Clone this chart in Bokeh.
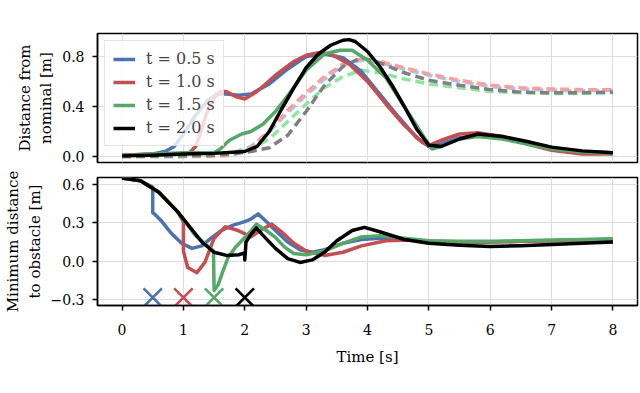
from bokeh.plotting import figure
from bokeh.layouts import column
from bokeh.models import FixedTicker, CustomJSTickFormatter, Range1d
from bokeh.embed import file_html
from bokeh.resources import INLINE

# ---------------- data ----------------
labels = ["t = 0.5 s", "t = 1.0 s", "t = 1.5 s", "t = 2.0 s"]
solid_colors = ["#4C72B0", "#C44E52", "#55A868", "#000000"]
dash_colors = ["#A1C9F4", "#FF9F9B", "#8DE5A1", "#808080"]

# Top: distance of EE from nominal (solid)
ee_t_05 = [0, 0.5, 0.7, 0.85, 1.0, 1.2, 1.4, 1.55, 1.7, 1.9, 2.1, 2.4, 2.7, 3.0, 3.3, 3.6, 3.9, 4.2, 4.5, 4.8, 5.0, 5.2, 5.5, 5.8, 6.2, 6.6, 7.0, 7.5, 8.0]
ee_v_05 = [0.01, 0.02, 0.04, 0.08, 0.18, 0.33, 0.45, 0.50, 0.50, 0.49, 0.50, 0.58, 0.70, 0.80, 0.82, 0.79, 0.68, 0.50, 0.32, 0.15, 0.08, 0.10, 0.15, 0.17, 0.15, 0.11, 0.07, 0.04, 0.03]
ee_t_10 = [0, 0.5, 1.0, 1.1, 1.2, 1.3, 1.4, 1.5, 1.6, 1.7, 1.85, 2.0, 2.2, 2.5, 2.8, 3.0, 3.2, 3.4, 3.7, 4.0, 4.3, 4.6, 4.9, 5.0, 5.2, 5.5, 5.8, 6.2, 6.6, 7.0, 7.5, 8.0]
ee_v_10 = [0.01, 0.02, 0.02, 0.03, 0.08, 0.22, 0.38, 0.47, 0.52, 0.52, 0.48, 0.46, 0.52, 0.65, 0.76, 0.81, 0.83, 0.82, 0.74, 0.60, 0.42, 0.25, 0.11, 0.09, 0.13, 0.18, 0.19, 0.16, 0.10, 0.05, 0.02, 0.02]
ee_t_15 = [0, 0.5, 1.0, 1.5, 1.6, 1.75, 1.95, 2.1, 2.3, 2.5, 2.75, 3.0, 3.3, 3.55, 3.75, 4.0, 4.3, 4.6, 4.9, 5.05, 5.2, 5.5, 5.8, 6.2, 6.6, 7.0, 7.5, 8.0]
ee_v_15 = [0.005, 0.02, 0.03, 0.03, 0.06, 0.13, 0.18, 0.20, 0.26, 0.36, 0.52, 0.69, 0.82, 0.85, 0.85, 0.77, 0.63, 0.40, 0.17, 0.06, 0.08, 0.14, 0.16, 0.14, 0.10, 0.06, 0.035, 0.025]
ee_t_20 = [0, 0.5, 1.0, 1.5, 2.0, 2.2, 2.4, 2.6, 2.8, 3.0, 3.2, 3.4, 3.6, 3.7, 3.8, 4.0, 4.2, 4.4, 4.6, 4.8, 5.0, 5.2, 5.5, 5.8, 6.2, 6.6, 7.0, 7.5, 8.0]
ee_v_20 = [0.005, 0.01, 0.02, 0.025, 0.04, 0.08, 0.20, 0.38, 0.55, 0.71, 0.82, 0.89, 0.93, 0.935, 0.92, 0.84, 0.72, 0.57, 0.40, 0.22, 0.09, 0.08, 0.14, 0.18, 0.16, 0.12, 0.075, 0.045, 0.03]

# Top: distance of base from nominal (dashed)
base_t = [0, 1.0, 1.5, 1.8, 2.1, 2.4, 2.7, 3.0, 3.3, 3.6, 3.9, 4.2, 4.6, 5.0, 5.5, 6.0, 6.5, 7.0, 7.5, 8.0]
base_v_05 = [0, 0.0, 0.01, 0.03, 0.08, 0.20, 0.35, 0.49, 0.62, 0.73, 0.77, 0.75, 0.70, 0.65, 0.60, 0.56, 0.54, 0.53, 0.525, 0.53]
base_v_10 = [0, 0.0, 0.0, 0.01, 0.07, 0.21, 0.37, 0.51, 0.64, 0.74, 0.78, 0.76, 0.71, 0.66, 0.61, 0.57, 0.55, 0.54, 0.535, 0.535]
base_v_15 = [0, 0.0, 0.01, 0.03, 0.06, 0.14, 0.28, 0.42, 0.55, 0.64, 0.69, 0.67, 0.62, 0.58, 0.55, 0.52, 0.51, 0.505, 0.505, 0.51]
base_v_20 = [0, 0.005, 0.01, 0.02, 0.04, 0.07, 0.17, 0.36, 0.57, 0.72, 0.79, 0.75, 0.67, 0.61, 0.57, 0.535, 0.515, 0.51, 0.51, 0.515]

# Bottom: minimum distance to obstacle
ob_t_05 = [0, 0.3, 0.5, 0.5, 0.55, 0.65, 0.8, 0.97, 1.14, 1.3, 1.45, 1.62, 1.8, 2.0, 2.1, 2.22, 2.35, 2.5, 2.7, 2.9, 3.1, 3.3, 3.6, 3.9, 4.2, 4.5, 5.0, 5.5, 6.0, 6.5, 7.0, 7.5, 8.0]
ob_v_05 = [0.65, 0.63, 0.58, 0.38, 0.36, 0.31, 0.22, 0.14, 0.10, 0.12, 0.18, 0.24, 0.28, 0.31, 0.33, 0.37, 0.31, 0.24, 0.15, 0.09, 0.07, 0.09, 0.14, 0.17, 0.18, 0.17, 0.155, 0.15, 0.15, 0.155, 0.16, 0.165, 0.17]
ob_t_10 = [0, 0.3, 0.6, 0.9, 1.0, 1.0, 1.07, 1.22, 1.35, 1.5, 1.68, 1.89, 2.1, 2.25, 2.44, 2.6, 2.8, 3.0, 3.3, 3.6, 3.9, 4.3, 4.7, 5.0, 5.5, 6.0, 6.5, 7.0, 7.5, 8.0]
ob_v_10 = [0.65, 0.63, 0.54, 0.39, 0.31, 0.08, -0.05, -0.09, -0.01, 0.18, 0.27, 0.24, 0.19, 0.24, 0.29, 0.23, 0.14, 0.08, 0.045, 0.07, 0.12, 0.16, 0.165, 0.155, 0.15, 0.15, 0.155, 0.16, 0.165, 0.17]
ob_t_15 = [0, 0.3, 0.6, 0.9, 1.2, 1.49, 1.5, 1.57, 1.65, 1.73, 1.85, 1.95, 2.07, 2.19, 2.35, 2.49, 2.65, 2.8, 3.0, 3.3, 3.6, 3.9, 4.2, 4.6, 5.0, 5.5, 6.0, 6.5, 7.0, 7.5, 8.0]
ob_v_15 = [0.65, 0.63, 0.54, 0.39, 0.20, 0.08, -0.23, -0.18, -0.07, 0.03, 0.11, 0.16, 0.22, 0.29, 0.24, 0.19, 0.11, 0.06, 0.05, 0.08, 0.14, 0.19, 0.20, 0.18, 0.16, 0.155, 0.155, 0.16, 0.165, 0.17, 0.175]
ob_t_20 = [0.0, 0.3, 0.6, 0.9, 1.1, 1.3, 1.5, 1.7, 1.9, 2.0, 2.0, 2.02, 2.1, 2.19, 2.3, 2.5, 2.7, 2.9, 3.1, 3.3, 3.5, 3.75, 3.95, 4.2, 4.6, 5.0, 5.5, 6.0, 6.5, 7.0, 7.5, 8.0]
ob_v_20 = [0.65, 0.63, 0.54, 0.39, 0.27, 0.15, 0.07, 0.045, 0.05, 0.065, 0.01, 0.15, 0.21, 0.26, 0.20, 0.10, 0.02, -0.01, 0.01, 0.07, 0.16, 0.24, 0.265, 0.23, 0.17, 0.14, 0.125, 0.115, 0.12, 0.13, 0.14, 0.15]

# Disturbance times (crosses)
mark_t = [0.5, 1.0, 1.5, 2.0]
mark_v = [-0.285, -0.285, -0.285, -0.285]

x_ticks = [0, 1, 2, 3, 4, 5, 6, 7, 8]
top_yticks = [0.0, 0.4, 0.8]
bot_yticks = [-0.3, 0.0, 0.3, 0.6]

# ---------------- plotting ----------------
FONT = "DejaVu Serif"
x_range = Range1d(-0.4, 8.4)


def style(p, yticks, minus=False):
    p.outline_line_color = "black"
    p.outline_line_width = 1.5
    p.outline_line_alpha = 1.0
    p.xaxis.ticker = FixedTicker(ticks=x_ticks)
    p.yaxis.ticker = FixedTicker(ticks=yticks)
    p.grid.grid_line_color = "#dddddd"
    p.grid.grid_line_width = 1
    code = "return tick.toFixed(1).replace('-', '\u2212');" if minus else "return tick.toFixed(1);"
    p.yaxis.formatter = CustomJSTickFormatter(code=code)
    for ax in p.axis:
        ax.major_tick_out = 5
        ax.major_tick_in = 0
        ax.minor_tick_out = 0
        ax.minor_tick_in = 0
        ax.axis_line_color = "black"
        ax.axis_line_width = 1.5
        ax.major_tick_line_width = 1.5
        ax.major_label_text_font = FONT
        ax.major_label_text_font_size = "14px"
        ax.major_label_text_color = "black"
        ax.axis_label_text_font = FONT
        ax.axis_label_text_font_style = "normal"
        ax.axis_label_text_font_size = "15px"
        ax.axis_label_text_color = "black"
    p.yaxis.major_label_standoff = 8
    p.yaxis.axis_label_standoff = 4


p1 = figure(width=640, height=169, x_range=x_range, y_range=Range1d(-0.048, 0.984),
            output_backend="svg", toolbar_location=None,
            min_border_left=95, min_border_right=3, min_border_top=33, min_border_bottom=7)
style(p1, top_yticks)
p1.xaxis.visible = False
p1.xgrid.ticker = FixedTicker(ticks=x_ticks)
p1.yaxis.axis_label = "Distance from\nnominal [m]"

base_v = [base_v_05, base_v_10, base_v_15, base_v_20]
for v, c in zip(base_v, dash_colors):
    p1.line(base_t, v, line_color=c, line_width=3.5, line_dash="9 5")

ee_t = [ee_t_05, ee_t_10, ee_t_15, ee_t_20]
ee_v = [ee_v_05, ee_v_10, ee_v_15, ee_v_20]
for t, v, c, lab in zip(ee_t, ee_v, solid_colors, labels):
    p1.line(t, v, line_color=c, line_width=3.5, line_join="round", legend_label=lab)

lg = p1.legend[0]
lg.location = "top_left"
lg.margin = 7
lg.padding = 8
lg.spacing = 4
lg.glyph_width = 22
lg.glyph_height = 18
lg.label_height = 18
lg.label_standoff = 11
lg.label_text_font = FONT
lg.label_text_font_size = "16px"
lg.border_line_color = "#cccccc"
lg.border_line_width = 1.5
lg.background_fill_alpha = 0.8

p2 = figure(width=640, height=224, x_range=x_range, y_range=Range1d(-0.347, 0.655),
            output_backend="svg", toolbar_location=None,
            min_border_left=95, min_border_right=3, min_border_top=8, min_border_bottom=88)
style(p2, bot_yticks, minus=True)
p2.yaxis.axis_label = "Minimum distance\nto obstacle [m]"
p2.xaxis.axis_label = "Time [s]"
p2.xaxis.major_label_standoff = 13
p2.xaxis.axis_label_standoff = 10

ob_t = [ob_t_05, ob_t_10, ob_t_15, ob_t_20]
ob_v = [ob_v_05, ob_v_10, ob_v_15, ob_v_20]
for t, v, c in zip(ob_t, ob_v, solid_colors):
    p2.line(t, v, line_color=c, line_width=3.5, line_join="round")

p2.scatter(mark_t, mark_v, marker="x", size=26, line_width=2.6, line_color=solid_colors)

layout = column(p1, p2, spacing=0)
open("out.html", "w").write(file_html(layout, INLINE))
